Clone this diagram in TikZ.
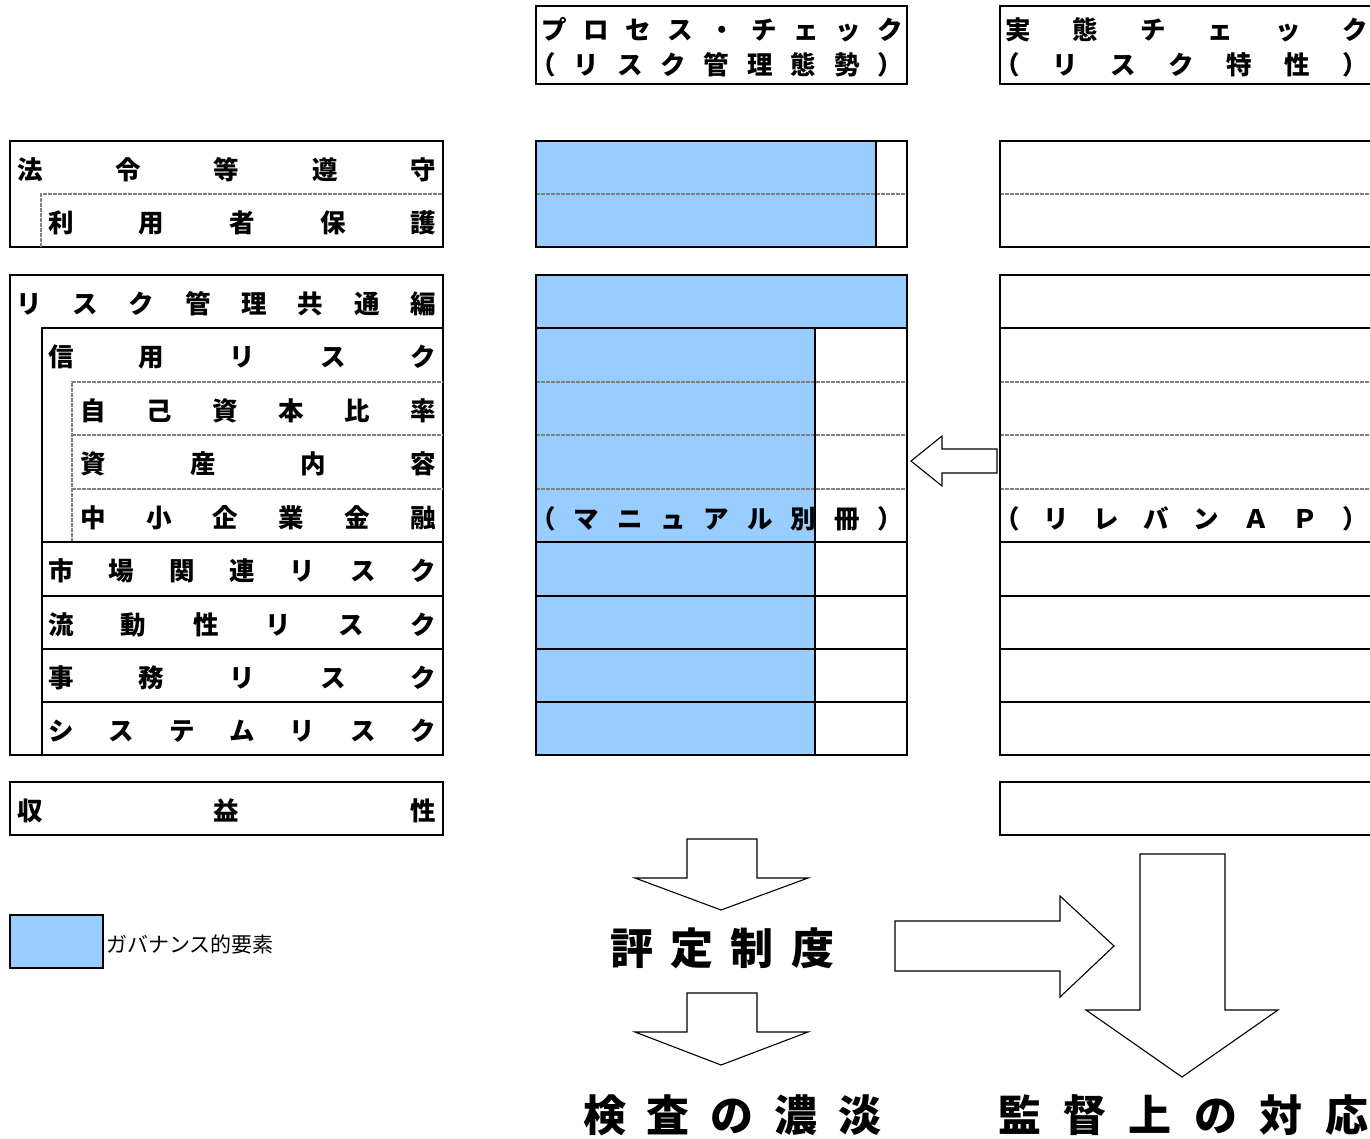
\documentclass[tikz,border=0pt]{standalone}
\usepackage{fontspec}
\setmainfont{Noto Sans CJK JP}
\definecolor{govblue}{HTML}{99CCFF}
\newcommand{\distnode}[5]{% name, x-left, width, y, content
  \node[lbl] (#1) at (#2,#4+2) {\makebox[#3pt]{#5}};}
\begin{document}
\begin{tikzpicture}[x=1pt,y=-1pt,
  lbl/.style={anchor=west, inner sep=0pt, font=\bfseries\fontsize{25.5}{25.5}\selectfont},
  big/.style={anchor=west, inner sep=0pt, font=\bfseries\fontsize{43}{43}\selectfont},
  box/.style={draw=black, line width=2.4pt},
  solidline/.style={draw=black, line width=2pt},
  dotline/.style={draw=gray, line width=1.8pt, dash pattern=on 4pt off 1pt},
  blockarrow/.style={draw=black, line width=1.1pt, fill=white, line join=miter}]
\useasboundingbox (0,0) rectangle (1370,1138);
\fill[white] (0,0) rectangle (1370,1138);

% ---------------- left column ----------------
\draw[box] (10,141) rectangle (443,247);
\draw[dotline] (41,247) -- (41,194) -- (443,194);
\distnode{l1}{17}{419}{168}{法\hfill 令\hfill 等\hfill 遵\hfill 守}
\distnode{l2}{48}{388}{221}{利\hfill 用\hfill 者\hfill 保\hfill 護}

\draw[box] (10,275) rectangle (443,755);
\draw[solidline] (42,755) -- (42,328) -- (443,328);
\draw[dotline] (72,542) -- (72,382) -- (443,382);
\draw[dotline] (72,435) -- (443,435);
\draw[dotline] (72,489) -- (443,489);
\foreach \yy in {542,596,649,702} \draw[solidline] (42,\yy) -- (443,\yy);
\distnode{l3}{16}{420}{302}{リ\hfill ス\hfill ク\hfill 管\hfill 理\hfill 共\hfill 通\hfill 編}
\distnode{l4}{48}{388}{355}{信\hfill 用\hfill リ\hfill ス\hfill ク}
\distnode{l5}{80}{356}{409}{自\hfill 己\hfill 資\hfill 本\hfill 比\hfill 率}
\distnode{l6}{80}{356}{462}{資\hfill 産\hfill 内\hfill 容}
\distnode{l7}{80}{356}{516}{中\hfill 小\hfill 企\hfill 業\hfill 金\hfill 融}
\distnode{l8}{48}{388}{569}{市\hfill 場\hfill 関\hfill 連\hfill リ\hfill ス\hfill ク}
\distnode{l9}{48}{388}{623}{流\hfill 動\hfill 性\hfill リ\hfill ス\hfill ク}
\distnode{l10}{48}{388}{676}{事\hfill 務\hfill リ\hfill ス\hfill ク}
\distnode{l11}{48}{388}{729}{シ\hfill ス\hfill テ\hfill ム\hfill リ\hfill ス\hfill ク}

\draw[box] (10,782) rectangle (443,835);
\distnode{l12}{17}{419}{809}{収\hfill 益\hfill 性}

% ---------------- middle column ----------------
\draw[box] (536,6) rectangle (907,84);
\distnode{mh1}{541}{362}{28}{プ\hfill ロ\hfill セ\hfill ス\hfill ・\hfill チ\hfill ェ\hfill ッ\hfill ク}
\distnode{mh2}{530}{373}{63}{（\hfill リ\hfill ス\hfill ク\hfill 管\hfill 理\hfill 態\hfill 勢\hfill ）}

\fill[govblue] (536,141) rectangle (876,247);
\draw[dotline] (536,194) -- (907,194);
\draw[solidline] (876,141) -- (876,247);
\draw[box] (536,141) rectangle (907,247);

\fill[govblue] (536,275) rectangle (907,328);
\fill[govblue] (536,328) rectangle (815,755);
\foreach \yy in {382,435,489} \draw[dotline] (536,\yy) -- (907,\yy);
\foreach \yy in {328,542,596,649,702} \draw[solidline] (536,\yy) -- (907,\yy);
\draw[solidline] (815,328) -- (815,755);
\draw[box] (536,275) rectangle (907,755);
\distnode{mm}{530}{373}{517}{（\hfill マ\hfill ニ\hfill ュ\hfill ア\hfill ル\hfill 別\hfill 冊\hfill ）}

% ---------------- right column ----------------
\draw[box] (1000,6) rectangle (1385,84);
\distnode{rh1}{1005}{363}{28}{実\hfill 態\hfill チ\hfill ェ\hfill ッ\hfill ク}
\distnode{rh2}{994}{374}{63}{（\hfill リ\hfill ス\hfill ク\hfill 特\hfill 性\hfill ）}

\draw[dotline] (1000,194) -- (1385,194);
\draw[box] (1000,141) rectangle (1385,247);

\foreach \yy in {382,435,489} \draw[dotline] (1000,\yy) -- (1385,\yy);
\foreach \yy in {328,542,596,649,702} \draw[solidline] (1000,\yy) -- (1385,\yy);
\draw[box] (1000,275) rectangle (1385,755);
\distnode{rm}{994}{374}{517}{（\hfill リ\hfill レ\hfill バ\hfill ン\hfill Ａ\hfill Ｐ\hfill ）}

\draw[box] (1000,782) rectangle (1385,835);

% ---------------- arrows ----------------
\draw[blockarrow] (911,461) -- (942,436) -- (942,449) -- (997,449) -- (997,473) -- (942,473) -- (942,486) -- cycle;
\draw[blockarrow] (687,839) -- (757,839) -- (757,878) -- (808,878) -- (721,910) -- (635,878) -- (687,878) -- cycle;
\draw[blockarrow] (687,993) -- (757,993) -- (757,1032) -- (808,1032) -- (721,1065) -- (635,1032) -- (687,1032) -- cycle;
\draw[blockarrow] (895,921) -- (1060,921) -- (1060,896) -- (1114,946) -- (1060,997) -- (1060,971) -- (895,971) -- cycle;
\draw[blockarrow] (1140,854) -- (1225,854) -- (1225,1010) -- (1278,1010) -- (1182,1077) -- (1086,1010) -- (1140,1010) -- cycle;

% ---------------- bottom labels ----------------
\node[big] (hyotei) at (610,948) {\makebox[224pt]{評\hfill 定\hfill 制\hfill 度}};
\node[big] (kensa) at (583,1115) {\makebox[298pt]{検\hfill 査\hfill の\hfill 濃\hfill 淡}};
\node[big] (kantoku) at (998,1115) {\makebox[370pt]{監\hfill 督\hfill 上\hfill の\hfill 対\hfill 応}};

% ---------------- legend ----------------
\draw[fill=govblue, draw=black, line width=2pt] (10,915) rectangle (103,968);
\node[anchor=west, inner sep=0pt, font=\fontsize{21}{21}\selectfont] (legend) at (106,944) {ガバナンス的要素};
\end{tikzpicture}
\end{document}
